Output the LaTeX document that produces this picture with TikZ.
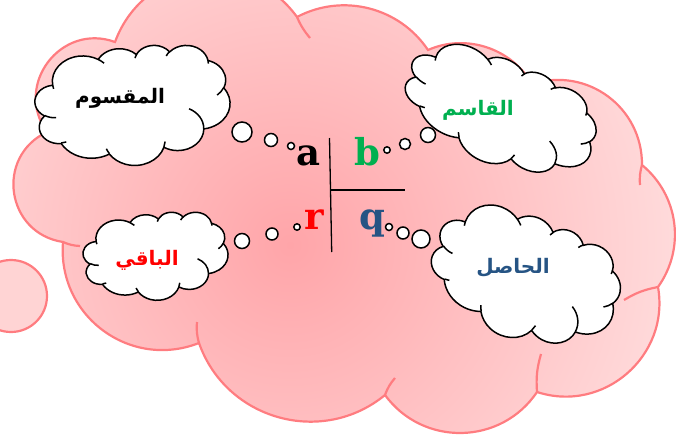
\documentclass[tikz,border=0pt]{standalone}
\usepackage{fontspec}
\newfontfamily\arabicfont[Script=Arabic]{DejaVu Sans}
\newfontfamily\letterfont{DejaVu Serif}
\TeXXeTstate=1

\definecolor{cloudline}{RGB}{255,124,128}
\definecolor{cloudcore}{RGB}{255,165,169}
\definecolor{cloudedge}{RGB}{255,226,226}
\definecolor{tailfill}{RGB}{255,212,212}
\definecolor{divisorgreen}{RGB}{0,176,80}
\definecolor{quotientblue}{RGB}{38,84,132}

\tikzset{
  % outline of a thought cloud in a 43.2 x 43.2 box, y pointing down
  puff outline/.style={insert path={
    (3.9,14.37)
    arc[start angle=172.26, end angle=300.36, x radius=6.753pt, y radius=9.19pt]
    arc[start angle=-152.03, end angle=-45.44, x radius=5.333pt, y radius=7.267pt]
    arc[start angle=-153.49, end angle=-37.33, x radius=4.365pt, y radius=5.945pt]
    arc[start angle=-139.71, end angle=-10.21, x radius=4.857pt, y radius=6.595pt]
    arc[start angle=-74.77, end angle=23.21, x radius=5.333pt, y radius=7.273pt]
    arc[start angle=-37.53, end angle=81.86, x radius=6.775pt, y radius=9.22pt]
    arc[start angle=0.46, end angle=121.98, x radius=5.785pt, y radius=7.867pt]
    arc[start angle=16.84, end angle=146.23, x radius=6.752pt, y radius=9.215pt]
    arc[start angle=58.99, end angle=150.20, x radius=7.72pt, y radius=10.543pt]
    arc[start angle=83.31, end angle=223.11, x radius=4.36pt, y radius=5.918pt]
    arc[start angle=120.35, end angle=264.11, x radius=4.345pt, y radius=5.945pt]
    -- cycle}},
  % short inner strokes where the puffs meet
  puff ticks/.style={insert path={
    (4.693,26.177) arc[start angle=85.55, end angle=120.35, x radius=4.345pt, y radius=5.945pt]
    (6.928,34.899) arc[start angle=68.24, end angle=83.31, x radius=4.36pt, y radius=5.918pt]
    (16.478,39.09) arc[start angle=146.23, end angle=158.48, x radius=6.752pt, y radius=9.215pt]
    (28.827,34.751) arc[start angle=4.74, end angle=16.84, x radius=6.752pt, y radius=9.215pt]
    (34.129,22.954) arc[start angle=-64.03, end angle=0.46, x radius=5.785pt, y radius=7.867pt]
    (41.798,15.354) arc[start angle=23.21, end angle=49.64, x radius=5.333pt, y radius=7.273pt]
    (38.324,5.426) arc[start angle=-10.21, end angle=0.82, x radius=4.857pt, y radius=6.595pt]
    (29.078,3.952) arc[start angle=-156.29, end angle=-139.71, x radius=4.857pt, y radius=6.595pt]
    (22.141,4.72) arc[start angle=-167.73, end angle=-152.36, x radius=4.365pt, y radius=5.945pt]
    (14.0,5.192) arc[start angle=-59.64, end angle=-45.72, x radius=6.753pt, y radius=9.19pt]
    (4.127,15.789) arc[start angle=163.20, end angle=172.26, x radius=6.753pt, y radius=9.19pt]}},
  thought/.style={draw=black, line width=1.5pt, fill=white},
  thought tick/.style={draw=black, line width=1.5pt},
  bubble/.style={draw=black, line width=1.5pt, fill=white},
  pinkline/.style={draw=cloudline, line width=2.2pt},
  term/.style={font=\letterfont\bfseries\fontsize{37}{40}\selectfont, anchor=base, inner sep=0pt},
  word/.style={font=\arabicfont\bfseries\fontsize{20}{24}\selectfont, inner sep=0pt},
}

% #1,#2 centre, #3 width, #4 height, #5 rotation
\newcommand\thoughtcloud[5]{%
  \begin{scope}[shift={(#1,-#2)}, rotate=#5, xscale=#3/43.2, yscale=-#4/43.2, shift={(-21.6,-21.6)}]
    \path[thought, puff outline];
    \path[thought tick, puff ticks];
  \end{scope}}

\begin{document}
\begin{tikzpicture}[x=1pt, y=1pt]
\useasboundingbox (0,0) rectangle (676,-439);
\clip (0,0) rectangle (676,-439);

% big pink cloud: junctions between its puffs
\coordinate (j1) at (47,-132);
\coordinate (j2) at (115,-42);
\coordinate (j3) at (297,-17);
\coordinate (j4) at (428,-50);
\coordinate (j5) at (532,-84);
\coordinate (j6) at (642,-165);
\coordinate (j7) at (658,-287);
\coordinate (j8) at (537,-392);
\coordinate (j9) at (385,-395);
\coordinate (j10) at (199,-343);
\coordinate (j11) at (63,-242);

\path[pinkline, path picture={
    \shade[inner color=cloudcore, outer color=cloudedge] (290,-245) circle[radius=440pt];}]
  (j1) to[bend left=73, looseness=1.31] (j2)
       to[bend left=62, looseness=1.17] (j3)
       to[bend left=42, looseness=0.98] (j4)
       to[bend left=42, looseness=0.97] (j5)
       to[bend left=54, looseness=1.08] (j6)
       to[bend left=43, looseness=0.99] (j7)
       to[bend left=59, looseness=1.12] (j8)
       to[bend left=55, looseness=1.08] (j9)
       to[bend left=55, looseness=1.08] (j10)
       to[bend left=58, looseness=1.12] (j11)
       to[bend left=73, looseness=1.33] (j1) -- cycle;

\draw[pinkline] (j1) to[bend right=10] (80,-152);
\draw[pinkline] (j11) to[bend right=10] (80,-246);
\draw[pinkline] (j3) to[bend right=8] (310,-38);
\draw[pinkline] (j6) to[bend right=10] (640,-185);
\draw[pinkline] (j7) to[bend right=10] (624,-300);
\draw[pinkline] (j8) to[bend left=10] (541,-354);
\draw[pinkline] (j9) to[bend left=10] (395,-378);
\draw[pinkline] (j10) to[bend left=10] (197,-322);

% the cloud's own tail bubble
\draw[pinkline, fill=tailfill] (11,-296) circle[radius=36pt];

% thought clouds
\thoughtcloud{132.5}{105}{195}{120}{0}
\thoughtcloud{500}{111}{200}{105}{-28}
\thoughtcloud{155.5}{256}{145}{88}{0}
\thoughtcloud{525}{277}{192}{125}{-28}

% bubbles leading to the terms
\draw[bubble] (242,-132) circle[radius=10pt];
\draw[bubble] (271,-140) circle[radius=6.5pt];
\draw[bubble] (291,-146) circle[radius=3.5pt];

\draw[bubble] (428,-135) circle[radius=7.5pt];
\draw[bubble] (405,-144) circle[radius=5.5pt];
\draw[bubble] (387,-150) circle[radius=3.2pt];

\draw[bubble] (242,-241) circle[radius=7.5pt];
\draw[bubble] (272,-234) circle[radius=6pt];
\draw[bubble] (297,-227) circle[radius=3.2pt];

\draw[bubble] (421,-239) circle[radius=9pt];
\draw[bubble] (403,-233) circle[radius=6pt];
\draw[bubble] (389,-227) circle[radius=3.5pt];

% words
\node[word, text=black] (dividendword) at (120,-98) {\beginR المقسوم\endR};
\node[word, text=divisorgreen] (divisorword) at (478,-110) {\beginR القاسم\endR};
\node[word, text=red] (remainderword) at (147,-260) {\beginR الباقي\endR};
\node[word, text=quotientblue] (quotientword) at (513,-268) {\beginR الحاصل\endR};

% division layout
\node[term, text=black] (a) at (308,-165) {a};
\node[term, text=divisorgreen] (b) at (367,-165) {b};
\node[term, text=red] (r) at (314,-229) {r};
\node[term, text=quotientblue] (q) at (372,-229) {q};

\coordinate (bartop) at (329.5,-138);
\coordinate (barbottom) at (331.7,-252);
\coordinate (barleft) at (331,-190);
\coordinate (barright) at (405,-190);
\draw[line width=1.3pt] (bartop) -- (barbottom);
\draw[line width=1.3pt] (barleft) -- (barright);
\end{tikzpicture}
\end{document}
